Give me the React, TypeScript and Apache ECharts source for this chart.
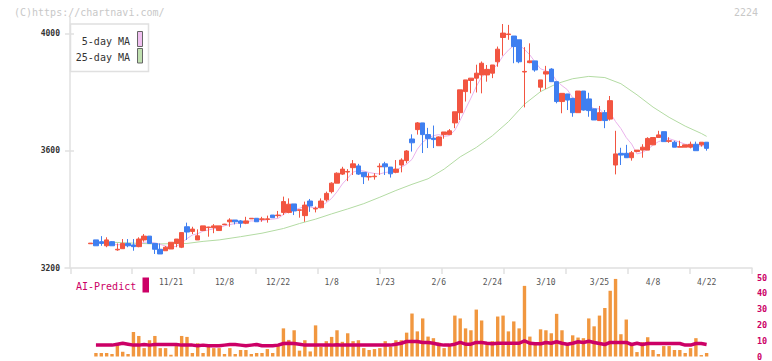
import React, { useEffect, useRef } from "react";
import * as echarts from "echarts";

// ---- data ----
const opens = [3283,3296,3290,3276,3290,3262,3266,3284,3279,3273,3296,3309,3284,3264,3259,3265,3284,3271,3341,3325,3296,3328,3338,3338,3328,3348,3358,3364,3361,3353,3368,3370,3366,3366,3381,3379,3390,3390,3419,3397,3379,3429,3402,3406,3433,3461,3490,3521,3528,3543,3549,3527,3511,3512,3546,3556,3545,3527,3552,3567,3641,3673,3696,3656,3644,3618,3656,3656,3696,3731,3803,3841,3849,3860,3860,3866,3905,3988,3998,3993,3980,3870,3902,3908,3818,3863,3880,3837,3769,3795,3780,3731,3805,3778,3744,3704,3731,3709,3552,3592,3592,3577,3598,3603,3603,3621,3646,3666,3633,3630,3613,3613,3613,3623,3621,3630];
const closes = [3285,3276,3284,3296,3276,3264,3284,3276,3273,3299,3309,3284,3264,3248,3271,3288,3299,3321,3323,3333,3310,3344,3340,3344,3344,3350,3364,3358,3353,3361,3370,3358,3368,3368,3372,3381,3427,3418,3395,3399,3415,3412,3404,3429,3455,3490,3524,3538,3530,3556,3521,3512,3513,3514,3548,3546,3522,3538,3569,3600,3628,3696,3656,3642,3639,3648,3665,3669,3734,3809,3843,3849,3866,3900,3879,3894,3948,4003,4000,3957,3905,3872,3908,3877,3843,3871,3837,3769,3797,3774,3731,3805,3740,3738,3706,3731,3704,3772,3590,3586,3577,3594,3603,3613,3643,3646,3655,3632,3635,3613,3615,3621,3623,3601,3630,3609];
const lows = [3283,3276,3276,3271,3276,3259,3265,3271,3259,3271,3290,3284,3248,3248,3259,3265,3271,3268,3296,3316,3296,3328,3307,3319,3328,3347,3341,3349,3338,3350,3368,3358,3358,3355,3372,3372,3381,3387,3381,3372,3358,3392,3390,3404,3427,3455,3490,3518,3497,3518,3518,3487,3499,3502,3518,3518,3509,3524,3527,3558,3598,3656,3593,3610,3610,3618,3642,3656,3678,3706,3769,3797,3800,3797,3837,3849,3888,3926,3980,3900,3900,3749,3900,3871,3803,3812,3837,3763,3729,3740,3717,3731,3738,3717,3706,3704,3678,3704,3520,3552,3577,3567,3596,3577,3603,3621,3646,3632,3628,3613,3613,3613,3609,3601,3615,3601];
const highs = [3285,3296,3309,3305,3292,3284,3299,3299,3299,3305,3316,3309,3284,3284,3275,3288,3299,3321,3355,3341,3332,3344,3341,3350,3344,3351,3370,3364,3364,3375,3370,3370,3375,3379,3381,3395,3444,3438,3419,3399,3427,3436,3410,3438,3461,3493,3527,3546,3538,3569,3556,3527,3524,3524,3558,3563,3545,3569,3575,3603,3657,3699,3696,3679,3687,3650,3665,3675,3734,3809,3843,3849,3895,3906,3894,3894,3957,4034,4031,3993,3980,3955,3968,3908,3843,3891,3883,3837,3797,3795,3780,3805,3805,3799,3744,3754,3740,3788,3669,3611,3621,3600,3603,3623,3647,3646,3669,3666,3647,3635,3635,3621,3632,3632,3630,3630];

const volumes = [null,2.2,2.2,2.2,1.6,8.4,3.0,1.6,15.5,13,5.3,10.3,13,5.3,5.3,1.1,8.4,13,12.4,2.2,8.4,2.2,7.4,5.3,5.3,1.6,5.3,1.6,4.1,4.1,1.6,2.2,2.2,4.7,2.2,6.8,17.8,10.5,16.6,3.7,10.3,3.2,19.7,6.1,9.7,12.4,16.6,9.3,14.7,9.7,10.3,5.3,4.1,4.7,5.3,9.7,6.1,10.3,10.3,15.1,27.2,15.9,24.1,12.6,11.6,8.9,5.3,6.8,25.9,24.1,17.8,16.6,29.7,22.8,7.8,9.7,25.3,25.9,15.9,22.2,17.8,44.7,12.6,8.9,17.2,16.6,14.7,27,16.6,7.8,13.4,12.0,11.6,24.1,19.1,25.9,30.7,41.6,49.1,14.1,23.4,7.2,2.8,9.1,12.2,4.1,1.6,6.6,6.6,4.1,4.1,2.2,5.3,11.6,0.9,2.2];

const aiPredict = [null,7.2,7.2,7.2,7.2,7.8,8.4,7.8,7.2,7.2,7.6,7.2,7.6,7.6,7.6,7.6,7.6,7.2,7.2,7.2,6.8,7.2,6.8,6.8,6.8,7.2,7.6,7.6,7.2,6.8,7.2,7.6,6.8,6.8,6.8,7.2,8.2,8.4,8.2,7.8,7.2,7.2,7.2,7.2,7.2,7.2,7.4,7.2,7.2,7.2,7.2,7.2,7.2,7.2,7.2,7.2,7.2,7.8,8.4,9.5,9.5,9.5,8.9,8.9,8.4,7.6,7.2,7.2,7.8,8.9,7.8,7.8,8.9,8.9,8.4,8.0,8.4,8.4,8.4,8.4,8.4,9.9,8.4,8.0,8.0,8.9,8.4,9.3,8.4,7.8,8.4,9.3,8.9,9.7,8.9,8.2,7.6,8.9,8.9,8.9,8.9,7.6,8.4,7.6,8.2,8.2,8.2,8.2,8.2,8.2,8.2,7.2,7.2,8.2,8.2,7.6];

// 25-day MA read at sampled candles (index into the candle list)
const ma25Index = [4,12,18,21,24,28,32,36,39,42,45,48,51,54,57,60,63,66,69,72,75,78,81,84,87,90,93,96,99,102,105,108,111,114,115];
const ma25Values = [3288,3282,3284,3291,3296,3307,3319,3335,3352,3367,3385,3402,3420,3442,3465,3486,3505,3538,3580,3612,3652,3700,3760,3803,3830,3847,3855,3851,3830,3792,3750,3715,3685,3660,3650];

const dateLabels = ["11/21","12/8","12/22","1/8","1/23","2/6","2/24","3/10","3/25","4/8","4/22"];
const dateLabelIndex = [15,25,35,45,55,65,75,85,95,105,115];
const priceTicks = [3200, 3600, 4000];
const frameTicks = [6,67,129,191,253,315,377,439,501,563,625,687];

const FONT = "DejaVu Sans Mono";

export default function App() {
  const ref = useRef<HTMLDivElement>(null);
  useEffect(() => {
    if (!ref.current) return;
    document.body.style.margin = "0";
    const chart = echarts.init(ref.current, null, { renderer: "svg" });
    const n = closes.length;
    const cats = closes.map((_, i) => String(i));
    const ohlc = closes.map((c, i) => [opens[i], c, lows[i], highs[i]]);
    const ma5 = closes.map((_, i) => {
      if (i < 4) return null;
      let s = 0;
      for (let k = i - 4; k <= i; k++) s += closes[k];
      return +(s / 5).toFixed(1);
    });
    const ma25: (number | null)[] = new Array(n).fill(null);
    ma25Index.forEach((ix, k) => { ma25[ix] = ma25Values[k]; });
    const labelMap: Record<number, string> = {};
    dateLabelIndex.forEach((ix, k) => { labelMap[ix] = dateLabels[k]; });

    const CL = 87.9, CR = 62.7;
    const axisGray = "#e0e0e0";
    const crimson = "#cc0066";

    chart.setOption({
      animation: false,
      backgroundColor: "#ffffff",
      grid: [
        { left: CL, right: CR, top: 17.3, height: 250.7 },
        { left: 65, right: 20, top: 17.3, height: 250.7 },
        { left: CL, right: CR, top: 277.5, height: 80 },
      ],
      xAxis: [
        {
          type: "category", gridIndex: 0, data: cats, boundaryGap: true,
          axisLine: { show: false }, axisTick: { show: false }, splitLine: { show: false },
          axisLabel: {
            interval: (idx: number) => labelMap[idx] !== undefined,
            formatter: (_v: string, idx: number) => labelMap[idx] || "",
            fontFamily: FONT, fontSize: 8, color: "#555", margin: 10,
          },
        },
        {
          type: "value", gridIndex: 1, min: 0, max: 687,
          axisLine: { show: true, lineStyle: { color: axisGray, width: 1.5 } },
          axisTick: { show: true, customValues: frameTicks, length: 6, lineStyle: { color: axisGray, width: 1.5 } },
          axisLabel: { show: false }, splitLine: { show: false },
        },
        {
          type: "category", gridIndex: 2, data: cats, boundaryGap: true, show: false,
        },
      ],
      yAxis: [
        {
          type: "value", gridIndex: 0, min: 3200, max: 4057, offset: 17.9, position: "left",
          axisLine: { show: true, lineStyle: { color: axisGray, width: 1.5 } },
          axisTick: { show: true, customValues: [3600, 4000], length: 5, lineStyle: { color: axisGray, width: 1.5 } },
          axisLabel: {
            customValues: priceTicks, formatter: (v: number) => String(v),
            fontFamily: FONT, fontSize: 8, color: "#333", margin: 10, fontWeight: "bold",
          },
          splitLine: { show: false },
        },
        {
          type: "value", gridIndex: 0, min: 3200, max: 4057, offset: 17.9, position: "left",
          axisLine: { show: false },
          axisTick: { show: true, inside: true, customValues: [3600, 4000], length: 4, lineStyle: { color: axisGray, width: 1.5 } },
          axisLabel: { show: false }, splitLine: { show: false },
        },
        {
          type: "value", gridIndex: 1, min: 0, max: 1, show: false,
        },
        {
          type: "value", gridIndex: 2, min: 0, max: 50, interval: 10, position: "right", offset: 42.7,
          axisLine: { show: false }, axisTick: { show: false }, splitLine: { show: false },
          axisLabel: { fontFamily: FONT, fontSize: 8.5, color: crimson, margin: 5, fontWeight: "bold" },
        },
      ],
      series: [
        {
          type: "line", name: "25-day MA", xAxisIndex: 0, yAxisIndex: 0, data: ma25,
          connectNulls: true, symbol: "none", z: 1,
          lineStyle: { color: "#b3dba3", width: 1 },
        },
        {
          type: "line", name: "5-day MA", xAxisIndex: 0, yAxisIndex: 0, data: ma5,
          symbol: "none", z: 1,
          lineStyle: { color: "#eab2ec", width: 1 },
        },
        {
          type: "candlestick", xAxisIndex: 0, yAxisIndex: 0, data: ohlc, barWidth: 5, z: 3,
          itemStyle: {
            color: "#f25541", color0: "#3f7ff0",
            borderColor: "#f25541", borderColor0: "#3f7ff0", borderWidth: 1,
          },
        },
        {
          type: "bar", xAxisIndex: 2, yAxisIndex: 3, data: volumes, barWidth: 3.4,
          itemStyle: { color: "#f1973f" },
        },
        {
          type: "line", xAxisIndex: 2, yAxisIndex: 3, data: aiPredict, symbol: "none", z: 4,
          lineStyle: { color: crimson, width: 3.5 },
        },
      ],
      graphic: [
        {
          type: "text", left: 14, top: 7,
          style: { text: "(C)https://chartnavi.com/", fill: "#c8c8c8", font: `10px '${FONT}'` },
        },
        {
          type: "text", right: 14, top: 7,
          style: { text: "2224", fill: "#c8c8c8", font: `10px '${FONT}'` },
        },
        {
          type: "group", z: 100,
          children: [
            { type: "rect", shape: { x: 70.5, y: 24, width: 78, height: 47.5 }, style: { fill: "#fff", stroke: "#e0e0e0", lineWidth: 1.5 } },
            { type: "text", style: { x: 130, y: 41, text: "5-day MA", fill: "#333", font: `10px '${FONT}'`, align: "right", verticalAlign: "middle" } },
            { type: "text", style: { x: 130, y: 57, text: "25-day MA", fill: "#333", font: `10px '${FONT}'`, align: "right", verticalAlign: "middle" } },
            { type: "rect", shape: { x: 137.5, y: 31.5, width: 5, height: 15 }, style: { fill: "#f0c0f0", stroke: "#666", lineWidth: 1 } },
            { type: "rect", shape: { x: 137.5, y: 48.5, width: 5, height: 14.5 }, style: { fill: "#c0e0b0", stroke: "#666", lineWidth: 1 } },
          ],
        },
        {
          type: "text", z: 100,
          style: { x: 76, y: 286, text: "AI-Predict", fill: crimson, font: `10px '${FONT}'`, verticalAlign: "middle" },
        },
        {
          type: "rect", z: 100,
          shape: { x: 142.5, y: 277.5, width: 6.5, height: 15 },
          style: { fill: crimson },
        },
      ],
    });
    return () => chart.dispose();
  }, []);
  return <div ref={ref} style={{ width: 772, height: 361 }} />;
}
